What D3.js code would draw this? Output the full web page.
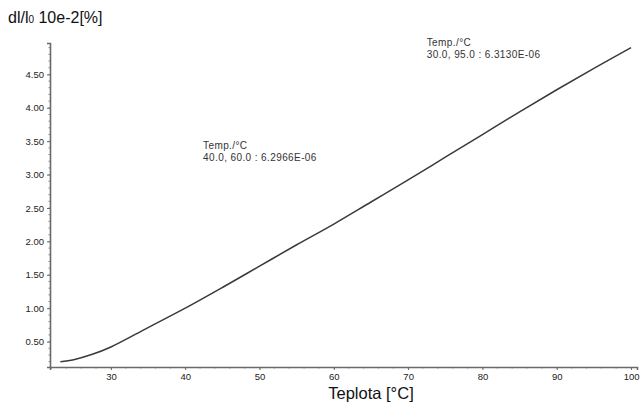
<!DOCTYPE html>
<html>
<head>
<meta charset="utf-8">
<script src="https://cdn.jsdelivr.net/npm/d3@7/dist/d3.min.js"></script>
<style>
  html, body { margin: 0; padding: 0; background: #fff; }
  svg { display: block; }
  text { font-family: "Liberation Sans", Arial, sans-serif; }
</style>
</head>
<body>
<svg id="chart" width="642" height="403"></svg>
<script>
// Thermal expansion curve: temperature [°C] vs dl/l0 [10e-2 %]
const temperature = [23.2, 25, 27.5, 30, 35, 40, 45, 50, 55, 60, 65, 70, 75, 80, 85, 90, 95, 100];
const expansion   = [0.20, 0.23, 0.31, 0.42, 0.71, 1.00, 1.31, 1.63, 1.95, 2.26, 2.59, 2.92, 3.26, 3.60, 3.94, 4.27, 4.59, 4.90];

const xTickValues = [30, 40, 50, 60, 70, 80, 90, 100];
const yTickValues = [0.5, 1.0, 1.5, 2.0, 2.5, 3.0, 3.5, 4.0, 4.5];

// mean expansion coefficient notes, anchored in data coordinates
const notes = [
  { t: 42.4, v: 3.38, head: "Temp./°C", body: "40.0, 60.0 : 6.2966E-06" },
  { t: 72.5, v: 4.93, head: "Temp./°C", body: "30.0, 95.0 : 6.3130E-06" }
];

const svg = d3.select("#chart");

const x = d3.scaleLinear().domain([21.8, 100.8]).range([50, 637]);
const y = d3.scaleLinear().domain([0.12, 4.97]).range([367, 43]);

const axisColor = "#6a6a6a";
const labelFont = "'Liberation Sans', Arial, sans-serif";

// y axis
const yAxis = svg.append("g")
  .attr("transform", `translate(${x(21.8)},0)`)
  .call(d3.axisLeft(y).tickValues(yTickValues).tickFormat(d3.format(".2f")).tickSize(3).tickPadding(3));
yAxis.select(".domain").attr("stroke", axisColor).attr("stroke-width", 1.6);
yAxis.selectAll(".tick line").attr("stroke", axisColor);
yAxis.selectAll(".tick text").attr("fill", "#222").attr("font-size", 9.5)
  .attr("font-family", labelFont);

// y minor ticks
svg.append("g").selectAll("line")
  .data(d3.range(0.2, 4.95, 0.1))
  .join("line")
  .attr("x1", x(21.8) - 1.5).attr("x2", x(21.8))
  .attr("y1", d => y(d)).attr("y2", d => y(d))
  .attr("stroke", axisColor).attr("stroke-width", 0.8);

// x axis
const xAxis = svg.append("g")
  .attr("transform", `translate(0,${y(0.12)})`)
  .call(d3.axisBottom(x).tickValues(xTickValues).tickSize(3).tickPadding(3.5));
xAxis.select(".domain").attr("stroke", axisColor).attr("stroke-width", 1.6);
xAxis.selectAll(".tick line").attr("stroke", axisColor);
xAxis.selectAll(".tick text").attr("fill", "#222").attr("font-size", 9.5)
  .attr("font-family", labelFont);

// x minor ticks
svg.append("g").selectAll("line")
  .data(d3.range(22, 101, 2))
  .join("line")
  .attr("x1", d => x(d)).attr("x2", d => x(d))
  .attr("y1", y(0.12)).attr("y2", y(0.12) + 1.5)
  .attr("stroke", axisColor).attr("stroke-width", 0.8);

// curve
const line = d3.line()
  .x((d, i) => x(temperature[i]))
  .y(d => y(d))
  .curve(d3.curveCatmullRom.alpha(0.5));

svg.append("path")
  .datum(expansion)
  .attr("d", line)
  .attr("fill", "none")
  .attr("stroke", "#3a3a3a")
  .attr("stroke-width", 1.5);

// axis titles
const yTitle = svg.append("text")
  .attr("x", 8).attr("y", 23)
  .attr("font-size", 16).attr("fill", "#111");
yTitle.append("tspan").text("dl/l");
yTitle.append("tspan").attr("font-size", 10).text("0");
yTitle.append("tspan").text(" 10e-2[%]");

svg.append("text")
  .attr("x", 371).attr("y", 399)
  .attr("text-anchor", "middle")
  .attr("font-size", 16.5).attr("fill", "#111")
  .text("Teplota [°C]");

// slope annotations
const ann = svg.append("g").selectAll("g").data(notes).join("g")
  .attr("transform", d => `translate(${x(d.t)},${y(d.v)})`);
ann.append("text").attr("font-size", 10).attr("letter-spacing", 0.4).attr("fill", "#333").text(d => d.head);
ann.append("text").attr("y", 12).attr("font-size", 10).attr("letter-spacing", 0.4).attr("fill", "#333").text(d => d.body);
</script>
</body>
</html>
